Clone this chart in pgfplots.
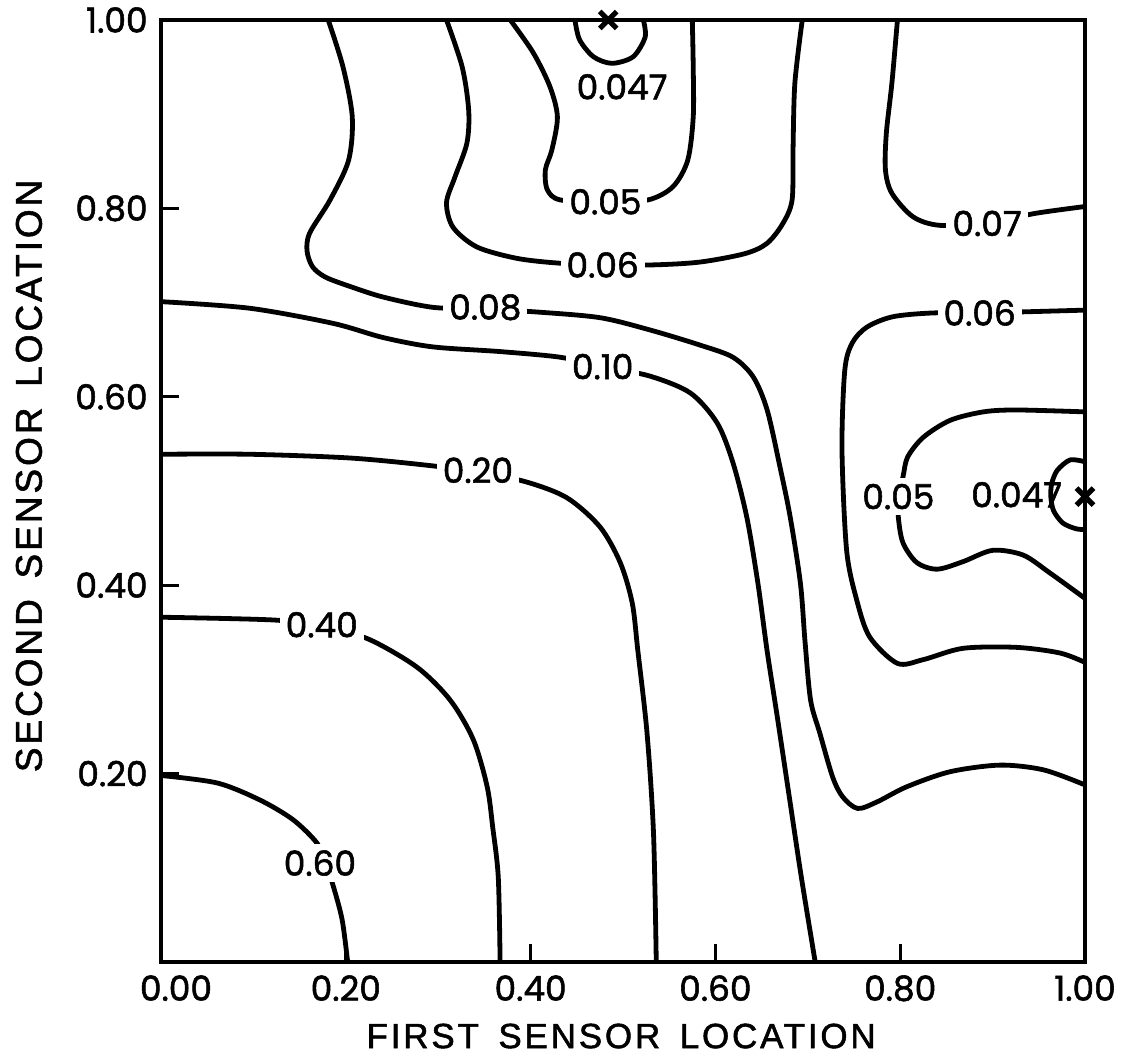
\documentclass[border=0pt]{standalone}
\usepackage{fontspec}
\usepackage{pgfplots}
\pgfplotsset{compat=1.18}
\newfontfamily\pop[FakeBold=1.6]{Poppins}
\newfontfamily\lab[LetterSpace=8,FakeBold=1.5]{Liberation Sans}
\tikzset{
  cl/.style={black, line width=2.4pt, smooth, tension=0.5, mark=none},
  clab/.style={font=\pop\fontsize{17.2}{19}\selectfont, fill=white, inner sep=3pt},
}
\begin{document}
\begin{tikzpicture}
\begin{axis}[
  scale only axis, width=462pt, height=471pt,
  xmin=0, xmax=1, ymin=0, ymax=1,
  axis line style={line width=2.2pt},
  tick align=inside, tick pos=left, major tick length=9pt,
  every tick/.style={black, line width=1.6pt},
  xtick={0,0.2,0.4,0.6,0.8,1},
  xticklabels={\hspace{15pt}0.00,0.20,0.40,0.60,0.80,1.00},
  ytick={0.2,0.4,0.6,0.8,1},
  yticklabels={0.20,0.40,0.60,0.80,1.00},
  xticklabel style={font=\pop\fontsize{17.2}{19}\selectfont, anchor=north, inner sep=0pt, yshift=-6.5pt},
  yticklabel style={font=\pop\fontsize{17.2}{19}\selectfont, anchor=east, inner sep=0pt, xshift=-6.5pt},
  xlabel={FIRST\hspace{0.2em} SENSOR\hspace{0.2em} LOCATION},
  ylabel={SECOND\hspace{0.2em} SENSOR\hspace{0.2em} LOCATION},
  xlabel style={font=\lab\fontsize{17.5}{20}\selectfont, at={(axis description cs:0.498,-0.0786)}, anchor=center},
  ylabel style={font=\lab\fontsize{18.5}{20}\selectfont, at={(axis description cs:-0.1429,0.516)}, anchor=center},
]
% 0.60
\addplot[cl] coordinates {(0,0.198) (0.061,0.190) (0.107,0.172) (0.143,0.151) (0.169,0.126) (0.178,0.105) (0.186,0.082) (0.196,0.045) (0.202,0)};
% 0.40
\addplot[cl] coordinates {(0,0.366) (0.123,0.363) (0.174,0.356) (0.224,0.343) (0.277,0.313) (0.313,0.278) (0.338,0.236) (0.353,0.186) (0.359,0.143) (0.365,0.090) (0.367,0)};
% 0.20
\addplot[cl] coordinates {(0,0.539) (0.096,0.539) (0.205,0.535) (0.291,0.527) (0.343,0.520) (0.394,0.510) (0.439,0.493) (0.475,0.462) (0.497,0.424) (0.510,0.381) (0.516,0.331) (0.526,0.243) (0.533,0.137) (0.536,0)};
% 0.10
\addplot[cl] coordinates {(0,0.701) (0.096,0.694) (0.186,0.678) (0.240,0.663) (0.294,0.653) (0.367,0.648) (0.432,0.642) (0.478,0.632) (0.529,0.622) (0.573,0.604) (0.602,0.572) (0.619,0.530) (0.634,0.472) (0.646,0.402) (0.656,0.330) (0.667,0.260) (0.680,0.175) (0.693,0.090) (0.708,0)};
% 0.08
\addplot[cl] coordinates {(0.181,1) (0.197,0.950) (0.207,0.897) (0.203,0.851) (0.183,0.809) (0.161,0.774) (0.158,0.755) (0.164,0.738) (0.178,0.727) (0.205,0.717) (0.240,0.706) (0.294,0.695) (0.351,0.693) (0.407,0.690) (0.475,0.684) (0.529,0.671) (0.583,0.655) (0.619,0.642) (0.641,0.621) (0.656,0.586) (0.670,0.525) (0.681,0.472) (0.692,0.402) (0.697,0.340) (0.703,0.278) (0.713,0.243) (0.727,0.196) (0.738,0.175) (0.754,0.163) (0.775,0.170) (0.807,0.186) (0.854,0.202) (0.908,0.209) (0.955,0.204) (1,0.188)};
% 0.06 middle
\addplot[cl] coordinates {(0.309,1) (0.326,0.950) (0.333,0.904) (0.331,0.869) (0.318,0.833) (0.309,0.806) (0.316,0.780) (0.342,0.759) (0.385,0.747) (0.429,0.742) (0.478,0.740) (0.532,0.740) (0.583,0.743) (0.632,0.752) (0.656,0.763) (0.673,0.784) (0.683,0.809) (0.684,0.862) (0.686,0.933) (0.694,1)};
% 0.05 middle
\addplot[cl] coordinates {(0.378,1) (0.403,0.965) (0.421,0.929) (0.429,0.897) (0.423,0.862) (0.416,0.841) (0.418,0.820) (0.432,0.809) (0.481,0.807) (0.527,0.809) (0.554,0.823) (0.570,0.851) (0.576,0.897) (0.576,0.950) (0.575,1)};
% 0.047 top
\addplot[cl] coordinates {(0.448,1) (0.453,0.979) (0.468,0.961) (0.488,0.954) (0.511,0.961) (0.524,0.982) (0.522,1)};
% 0.07
\addplot[cl] coordinates {(0.797,1) (0.791,0.933) (0.785,0.880) (0.784,0.841) (0.791,0.816) (0.814,0.791) (0.843,0.782) (0.894,0.785) (0.948,0.795) (1,0.802)};
% 0.06 right
\addplot[cl] coordinates {(1,0.692) (0.886,0.689) (0.835,0.689) (0.792,0.685) (0.764,0.674) (0.748,0.657) (0.740,0.628) (0.737,0.544) (0.742,0.437) (0.753,0.384) (0.767,0.345) (0.797,0.317) (0.825,0.321) (0.868,0.333) (0.926,0.334) (0.973,0.328) (1,0.318)};
% 0.05 right
\addplot[cl] coordinates {(1,0.584) (0.926,0.586) (0.890,0.584) (0.854,0.575) (0.825,0.557) (0.808,0.536) (0.803,0.515) (0.798,0.496) (0.798,0.472) (0.803,0.445) (0.818,0.424) (0.840,0.417) (0.868,0.425) (0.900,0.437) (0.933,0.432) (0.962,0.413) (1,0.386)};
% 0.047 right
\addplot[cl] coordinates {(1,0.531) (0.984,0.533) (0.970,0.522) (0.964,0.508) (0.963,0.494) (0.966,0.479) (0.976,0.466) (0.990,0.460) (1,0.459)};
% minima
\addplot[black, only marks, mark=x, mark size=6pt, mark options={line width=2.6pt}] coordinates {(0.484,1) (1,0.494)};
% labels
\node[clab] at (axis cs:0.172,0.105) {0.60};
\node[clab] at (axis cs:0.174,0.358) {0.40};
\node[clab] at (axis cs:0.343,0.522) {0.20};
\node[clab] at (axis cs:0.478,0.632) {0.10};
\node[clab] at (axis cs:0.351,0.695) {0.08};
\node[clab] at (axis cs:0.478,0.740) {0.06};
\node[clab] at (axis cs:0.481,0.807) {0.05};
\node[clab, fill=none] at (axis cs:0.499,0.929) {0.047};
\node[clab] at (axis cs:0.894,0.784) {0.07};
\node[clab] at (axis cs:0.886,0.689) {0.06};
\node[clab] at (axis cs:0.798,0.494) {0.05};
\node[clab, fill=none] at (axis cs:0.926,0.496) {0.047};
\end{axis}
\pgfresetboundingbox
\path[use as bounding box] (-80.5pt,-49pt) rectangle (483pt,481pt);
\end{tikzpicture}
\end{document}
